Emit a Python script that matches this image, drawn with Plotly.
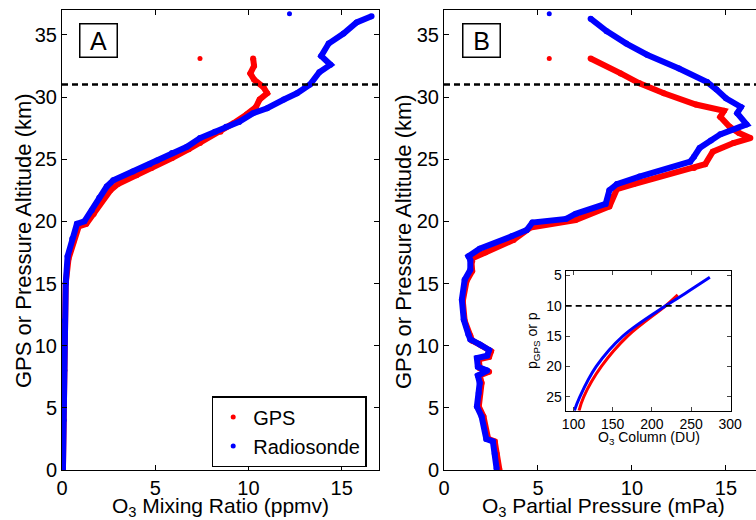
import plotly.graph_objects as go

# ---------------- Data ----------------
# Panel A: O3 mixing ratio (ppmv) vs altitude (km)
a_gps_ppmv = [0.05, 0.08, 0.12, 0.15, 0.2, 0.35, 0.6, 0.9, 1.3, 1.7, 2.1, 2.6, 3.0, 4.0, 4.8, 5.9, 6.8, 7.4,
              8.5, 9.2, 9.9, 10.4, 10.6, 11.0, 10.8, 10.3, 10.1, 10.3, 10.25]
a_gps_alt = [0.0, 4.0, 8.0, 12.0, 15.0, 17.0, 18.3, 19.6, 19.8, 20.6, 21.6, 22.5, 23.0, 23.7, 24.3, 25.1, 25.8, 26.3,
             27.2, 27.9, 28.6, 29.2, 29.8, 30.3, 30.8, 31.4, 31.9, 32.5, 33.1]
a_sonde_ppmv = [0.05, 0.08, 0.12, 0.15, 0.2, 0.3, 0.55, 0.8, 1.2, 1.6, 2.0, 2.4, 2.75, 3.8, 4.7, 5.1, 5.9, 6.7, 7.4,
                8.2, 8.8, 9.5, 10.25, 11.0, 11.9, 12.6, 13.3, 13.8, 14.4, 13.9, 14.3, 15.1, 15.8, 16.6]
a_sonde_alt = [0.0, 4.0, 8.0, 12.0, 15.0, 17.2, 18.6, 19.8, 20.0, 20.9, 21.9, 22.8, 23.3, 24.0, 24.6, 24.9, 25.5, 26.0,
               26.7, 27.2, 27.6, 28.0, 28.7, 29.1, 29.8, 30.3, 31.0, 32.0, 32.6, 33.3, 34.3, 35.1, 36.0, 36.5]
a_gps_outlier = (7.4, 33.1)
a_sonde_outlier = (12.2, 36.7)

# Panel B: O3 partial pressure (mPa) vs altitude (km)
b_gps_mpa = [2.95, 2.8, 2.7, 2.35, 2.1, 1.85, 1.9, 2.0, 1.9, 2.4, 1.9, 1.85, 2.4, 2.5, 2.0, 1.5, 1.4, 1.1, 1.0, 1.2,
             1.5, 1.5, 1.45, 2.2, 3.7, 4.6, 7.0, 8.8, 9.0, 9.2, 10.1, 13.3, 13.9, 14.3, 15.4, 16.3, 15.7, 15.2,
             14.7, 14.9, 13.4, 11.7, 10.4, 9.4, 7.8]
b_gps_alt = [0.0, 1.3, 2.3, 2.5, 4.3, 5.1, 6.2, 7.0, 7.6, 7.9, 8.2, 8.9, 9.1, 9.55, 10.0, 10.4, 10.8, 12.0, 13.6, 15.2,
             16.0, 16.8, 17.0, 17.5, 18.5, 19.5, 20.1, 21.2, 22.0, 22.6, 23.0, 24.3, 24.6, 25.6, 26.3, 26.7, 27.1, 27.6,
             28.4, 28.9, 29.4, 30.3, 31.1, 31.9, 33.1]
b_sonde_mpa = [2.8, 2.7, 2.6, 2.25, 2.0, 1.75, 1.85, 1.9, 1.8, 2.3, 1.8, 1.75, 2.3, 2.4, 1.9, 1.4, 1.3, 1.05, 0.95,
               1.1, 1.4, 1.4, 1.3, 1.9, 3.6, 4.4, 4.7, 6.5, 7.0, 8.6, 8.8, 9.2, 10.4, 13.1, 13.3, 13.6, 14.2, 14.7,
               16.1, 15.6, 15.8, 15.0, 14.5, 14.0, 12.5, 10.8, 9.7, 8.65, 7.8]
b_sonde_alt = [0.1, 1.3, 2.3, 2.5, 4.3, 5.1, 6.2, 7.0, 7.6, 8.0, 8.3, 9.0, 9.2, 9.65, 10.1, 10.5, 10.9, 12.1, 13.7,
               15.3, 16.1, 16.9, 17.2, 17.8, 18.8, 19.3, 19.9, 20.2, 20.6, 21.4, 22.5, 23.0, 23.6, 24.8, 25.2, 25.9,
               26.5, 27.0, 27.8, 28.7, 29.2, 29.9, 30.6, 31.2, 32.3, 33.4, 34.3, 35.3, 36.3]
b_gps_outlier = (5.6, 33.1)
b_sonde_outlier = (5.6, 36.7)

# Inset: O3 column (DU) vs pressure
inset_gps_du = [107, 113, 135.5, 169, 217.5, 233]
inset_gps_p = [27.3, 25, 20, 15, 10, 8.2]
inset_sonde_du = [101, 108, 129, 163, 217.5, 242, 274]
inset_sonde_p = [27.3, 25, 20, 15, 10, 8, 5.3]

threshold_alt = 31
threshold_p = 10

x_ticks_main = [0, 5, 10, 15]
y_ticks_main = [0, 5, 10, 15, 20, 25, 30, 35]
x_ticks_inset = [100, 150, 200, 250, 300]
y_ticks_inset = [5, 10, 15, 20, 25]

RED = "#ff0000"
BLUE = "#0000ff"
W, H = 756, 520

fig = go.Figure()


def profile(x, y, color, xa, ya):
    fig.add_trace(go.Scatter(x=x, y=y, mode="lines+markers", xaxis=xa, yaxis=ya,
                             line=dict(color=color, width=6), marker=dict(color=color, size=6),
                             showlegend=False, hoverinfo="skip"))


def dot(pt, color, xa, ya):
    fig.add_trace(go.Scatter(x=[pt[0]], y=[pt[1]], mode="markers", xaxis=xa, yaxis=ya,
                             marker=dict(color=color, size=5), showlegend=False, hoverinfo="skip"))


profile(a_gps_ppmv, a_gps_alt, RED, "x", "y")
profile(a_sonde_ppmv, a_sonde_alt, BLUE, "x", "y")
dot(a_gps_outlier, RED, "x", "y")
dot(a_sonde_outlier, BLUE, "x", "y")

profile(b_gps_mpa, b_gps_alt, RED, "x2", "y2")
profile(b_sonde_mpa, b_sonde_alt, BLUE, "x2", "y2")
dot(b_gps_outlier, RED, "x2", "y2")
dot(b_sonde_outlier, BLUE, "x2", "y2")

fig.add_trace(go.Scatter(x=inset_gps_du, y=inset_gps_p, mode="lines", xaxis="x3", yaxis="y3",
                         line=dict(color=RED, width=3, shape="spline"), showlegend=False, hoverinfo="skip"))
fig.add_trace(go.Scatter(x=inset_sonde_du, y=inset_sonde_p, mode="lines", xaxis="x3", yaxis="y3",
                         line=dict(color=BLUE, width=3, shape="spline"), showlegend=False, hoverinfo="skip"))

# legend entries
fig.add_trace(go.Scatter(x=[None], y=[None], mode="markers", name="GPS", marker=dict(color=RED, size=5)))
fig.add_trace(go.Scatter(x=[None], y=[None], mode="markers", name="Radiosonde", marker=dict(color=BLUE, size=5)))

ax_common = dict(showline=True, linecolor="black", linewidth=1, ticks="inside", ticklen=5, tickcolor="black",
                 showgrid=False, zeroline=False, tickfont=dict(size=20), automargin=False)
ydom = [(H - 470) / H, (H - 10) / H]
inset_ax = dict(showline=True, linecolor="black", linewidth=1, ticks="inside", ticklen=4, mirror="ticks",
                showgrid=False, zeroline=False, tickfont=dict(size=14), automargin=False)

fig.update_layout(
    width=W, height=H, margin=dict(l=0, r=0, t=0, b=0, pad=0, autoexpand=False),
    paper_bgcolor="white", plot_bgcolor="white",
    font=dict(family="Liberation Sans, Arial, sans-serif", size=20, color="black"),
    xaxis=dict(domain=[62 / W, 379 / W], range=[0, 17], tickvals=x_ticks_main, anchor="y", mirror="ticks", **ax_common),
    yaxis=dict(domain=ydom, range=[0, 37], tickvals=y_ticks_main, anchor="x", mirror="ticks", **ax_common),
    xaxis2=dict(domain=[444 / W, 1.0], range=[0, 16.6], tickvals=x_ticks_main, anchor="y2", mirror="ticks", **ax_common),
    yaxis2=dict(domain=ydom, range=[0, 37], tickvals=y_ticks_main, anchor="x2", mirror=False, **ax_common),
    xaxis3=dict(domain=[565.7 / W, 731 / W], range=[90, 301], tickvals=x_ticks_inset, anchor="y3", **inset_ax),
    yaxis3=dict(domain=[(H - 410.7) / H, (H - 270.7) / H], range=[27.3, 4.2], tickvals=y_ticks_inset, anchor="x3",
                **inset_ax),
    showlegend=True,
    legend=dict(x=211.7 / W, y=(H - 396) / H, xanchor="left", yanchor="top", bgcolor="white",
                bordercolor="black", borderwidth=1.5, font=dict(size=20), itemwidth=30, tracegroupgap=0),
)

dash_line = dict(color="black", width=2.5, dash="6px,4px")
fig.add_shape(type="line", xref="x domain", yref="y", x0=0, x1=1, y0=threshold_alt, y1=threshold_alt, line=dash_line)
fig.add_shape(type="line", xref="x2 domain", yref="y2", x0=0, x1=1, y0=threshold_alt, y1=threshold_alt, line=dash_line)
fig.add_shape(type="line", xref="x3 domain", yref="y3", x0=0, x1=1, y0=threshold_p, y1=threshold_p,
              line=dict(color="black", width=1.8, dash="6px,4px"))


def px_ann(text, x, y, size=20, angle=0, **kw):
    fig.add_annotation(text=text, xref="paper", yref="paper", x=x / W, y=(H - y) / H, showarrow=False,
                       xanchor="center", yanchor="middle", textangle=angle, font=dict(size=size), **kw)


px_ann("GPS or Pressure Altitude (km)", 23, 241, size=22, angle=-90)
px_ann("GPS or Pressure Altitude (km)", 403, 241, size=22, angle=-90)
px_ann("O<sub>3</sub> Mixing Ratio (ppmv)", 220.5, 507, size=21)
px_ann("O<sub>3</sub> Partial Pressure (mPa)", 603, 507, size=21)
px_ann("O<sub>3</sub> Column (DU)", 648.5, 438, size=14)
px_ann("p<sub>GPS</sub> or p", 533, 341, size=14, angle=-90)
px_ann("A", 98.5, 40.3, size=25, bordercolor="black", borderwidth=1.5, borderpad=2, width=32, height=28,
       bgcolor="white")
px_ann("B", 481.5, 40.5, size=25, bordercolor="black", borderwidth=1.5, borderpad=2, width=32, height=28,
       bgcolor="white")

fig.write_html("out.html")
